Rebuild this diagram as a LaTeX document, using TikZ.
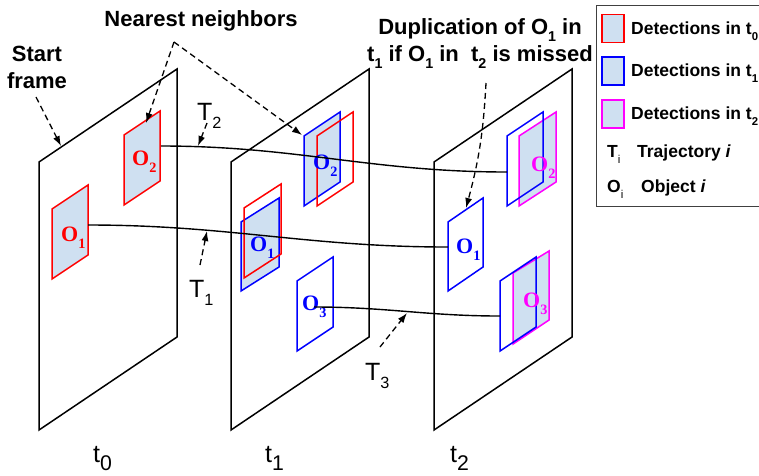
\documentclass[tikz,border=0pt]{standalone}
\usepackage{fontspec}
\setmainfont{Liberation Sans}
\newfontfamily\timesfont{Liberation Serif}
\usepackage{graphicx}
\usetikzlibrary{arrows.meta}

\definecolor{boxfill}{RGB}{207,224,241}
\definecolor{detred}{RGB}{255,0,0}
\definecolor{detblue}{RGB}{0,0,255}
\definecolor{detmag}{RGB}{255,0,255}
\newcommand{\lo}[2][0.65]{\raisebox{-0.35em}{\scalebox{#1}{#2}}}

\begin{document}
\begin{tikzpicture}[x=1pt, y=-1pt, >={Latex[length=10pt,width=7pt]},
  frame/.style={draw, line width=1.5pt},
  det/.style={line width=1.5pt},
  traj/.style={line width=1.4pt},
  callout/.style={->, line width=1.3pt, dash pattern=on 6pt off 4pt},
  lab/.style={font=\fontsize{22}{27}\selectfont\bfseries, inner sep=0pt},
  leg/.style={font=\fontsize{17.5}{20}\selectfont\bfseries, inner sep=0pt},
  tlab/.style={font=\fontsize{25}{28}\selectfont, inner sep=0pt},
  olab/.style={font=\timesfont\fontsize{22}{24}\selectfont\bfseries, inner sep=0pt, anchor=base west},
  swatch/.style={draw, fill=boxfill, line width=1.5pt, minimum width=22pt, minimum height=28pt, inner sep=0pt}]
\useasboundingbox (0,0) rectangle (759,475);

% frames t0, t1, t2
\foreach \x in {39,231,434}
  \draw[frame] (\x,162) -- ++(138,-93) -- ++(0,268) -- ++(-138,93) -- cycle;

% detections in t0
\draw[det, draw=detred, fill=boxfill] (124,135) -- ++(36,-24) -- ++(0,70) -- ++(-36,24) -- cycle;
\draw[det, draw=detred, fill=boxfill] (52,209) -- ++(36,-24) -- ++(0,70) -- ++(-36,24) -- cycle;

% detections in t1
\draw[det, draw=detblue, fill=boxfill] (304,136) -- ++(36,-24) -- ++(0,70) -- ++(-36,24) -- cycle;
\draw[det, draw=detred] (317,136) -- ++(36,-24) -- ++(0,70) -- ++(-36,24) -- cycle;
\draw[det, draw=detblue, fill=boxfill] (241,222) -- ++(38,-24) -- ++(0,69) -- ++(-38,24) -- cycle;
\draw[det, draw=detred] (244,208) -- ++(37,-24) -- ++(0,70) -- ++(-37,24) -- cycle;
\draw[det, draw=detblue] (297,281) -- ++(36,-24) -- ++(0,70) -- ++(-36,24) -- cycle;

% detections in t2
\draw[det, draw=detmag, fill=boxfill] (519,136) -- ++(37,-24) -- ++(0,70) -- ++(-37,24) -- cycle;
\draw[det, draw=detblue] (507,136) -- ++(36,-24) -- ++(0,70) -- ++(-36,24) -- cycle;
\draw[det, draw=detblue] (448,222) -- ++(35,-24) -- ++(0,69) -- ++(-35,24) -- cycle;
\draw[det, draw=detmag, fill=boxfill] (513,273) -- ++(36,-22) -- ++(0,69) -- ++(-36,24) -- cycle;
\draw[det, draw=detblue] (500,281) -- ++(36,-24) -- ++(0,70) -- ++(-36,24) -- cycle;

% object labels
\node[olab, text=detred] (o2t0) at (132,165) {O\lo{2}};
\node[olab, text=detred] (o1t0) at (61,241) {O\lo{1}};
\node[olab, text=detblue] (o2t1) at (313,169) {O\lo{2}};
\node[olab, text=detblue] (o1t1) at (250,251) {O\lo{1}};
\node[olab, text=detblue] (o3t1) at (302,310) {O\lo{3}};
\node[olab, text=detmag] (o2t2) at (531,171) {O\lo{2}};
\node[olab, text=detblue] (o1t2) at (456,253) {O\lo{1}};
\node[olab, text=detmag] (o3t2) at (523,307) {O\lo{3}};

% ends of the trajectories
\coordinate (a2) at (161,146);
\coordinate (c2) at (507,172);
\coordinate (a1) at (88,225);
\coordinate (c1) at (448,247);
\coordinate (b3) at (314,307);
\coordinate (c3) at (500,316);

\draw[traj] (a2) to[out=0, in=180] (c2);
\draw[traj] (a1) to[out=0, in=180] (c1);
\draw[traj] (b3) to[out=0, in=180] (c3);

% frame names
\node[tlab, anchor=base west] (t0) at (93,462) {t\lo[0.85]{0}};
\node[tlab, anchor=base west] (t1) at (265,462) {t\lo[0.85]{1}};
\node[tlab, anchor=base west] (t2) at (450,462) {t\lo[0.85]{2}};

% trajectory names
\node[tlab, anchor=base west] (T2) at (197,120) {T\lo{2}};
\node[tlab, anchor=base west] (T1) at (189,297) {T\lo{1}};
\node[tlab, anchor=base west] (T3) at (365,380) {T\lo{3}};

\coordinate (T2s) at (207,123);
\coordinate (T2e) at (198,146);
\coordinate (T1s) at (200,265);
\coordinate (T1e) at (207,231);
\coordinate (T3s) at (380,347);
\coordinate (T3e) at (407,313);
\draw[callout] (T2s) -- (T2e);
\draw[callout] (T1s) -- (T1e);
\draw[callout] (T3s) -- (T3e);

% callouts
\node[lab, align=center, anchor=north] (start) at (37,46) {Start\\frame};
\node[lab, anchor=base] (near) at (201,26) {Nearest neighbors};
\node[lab, align=center, anchor=north] (dup) at (480,18) {Duplication of O\lo{1} in\\t\lo{1} if O\lo{1} in~ t\lo{2} is missed};

\coordinate (sf) at (36,97);
\coordinate (f0) at (61,146);
\coordinate (nn) at (174,42);
\coordinate (nn0) at (146,123);
\coordinate (nn1) at (302,135);
\coordinate (dp) at (486,83);
\coordinate (dp1) at (466,208);
\draw[callout] (sf) -- (f0);
\draw[callout] (nn) -- (nn0);
\draw[callout] (nn) -- (nn1);
\draw[callout] (dp) to[bend left=6] (dp1);

% legend
\draw[line width=1pt, draw=black!75] (596,5) rectangle (775,206);
\node[swatch, draw=detred] (k0) at (613,28.5) {};
\node[swatch, draw=detblue] (k1) at (613,71) {};
\node[swatch, draw=detmag] (k2) at (613,114) {};
\node[leg, anchor=base west] (d0) at (631,34) {Detections in t\lo{0}};
\node[leg, anchor=base west] (d1) at (631,76) {Detections in t\lo{1}};
\node[leg, anchor=base west] (d2) at (631,119) {Detections in t\lo{2}};
\node[leg, anchor=base west] (ti) at (607,157) {T\lo{\mdseries i}};
\node[leg, anchor=base west] (tt) at (637,157) {Trajectory \textit{i}};
\node[leg, anchor=base west] (oi) at (607,192) {O\lo{\mdseries i}};
\node[leg, anchor=base west] (ot) at (641,192) {Object \textit{i}};
\end{tikzpicture}
\end{document}
